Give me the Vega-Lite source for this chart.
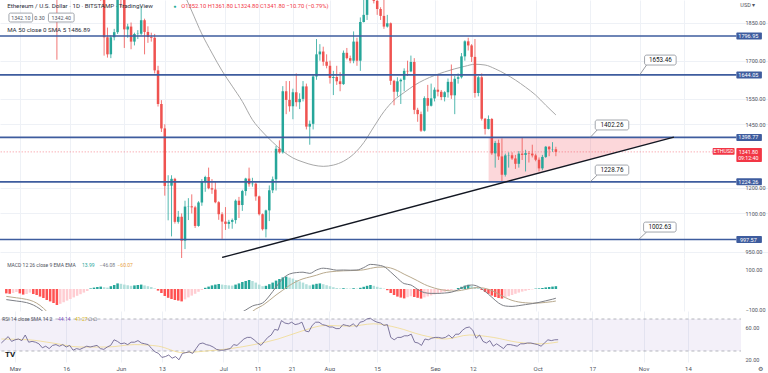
{
"$schema":"https://vega.github.io/schema/vega-lite/v6.json",
"padding":0,
"background":"#ffffff",
"spacing":0,
"bounds":"flush",
"config":{"view":{"stroke":null},"font":"Roboto","axis":{"titleFontSize":1}},
"datasets":{
"candles":[
{"d":"2022-05-12","o":2072,"h":2112,"l":1704,"c":1962},
{"d":"2022-05-25","o":1978,"h":2010,"l":1935,"c":1945},
{"d":"2022-05-26","o":1945,"h":1985,"l":1720,"c":1792},
{"d":"2022-05-27","o":1792,"h":1830,"l":1712,"c":1725},
{"d":"2022-05-28","o":1725,"h":1800,"l":1710,"c":1792},
{"d":"2022-05-29","o":1792,"h":1825,"l":1780,"c":1812},
{"d":"2022-05-30","o":1812,"h":2015,"l":1805,"c":1997},
{"d":"2022-05-31","o":1997,"h":2000,"l":1910,"c":1942},
{"d":"2022-06-01","o":1942,"h":1972,"l":1750,"c":1823},
{"d":"2022-06-02","o":1823,"h":1845,"l":1790,"c":1834},
{"d":"2022-06-03","o":1834,"h":1850,"l":1745,"c":1775},
{"d":"2022-06-04","o":1775,"h":1810,"l":1760,"c":1805},
{"d":"2022-06-05","o":1805,"h":1820,"l":1785,"c":1806},
{"d":"2022-06-06","o":1806,"h":1915,"l":1800,"c":1859},
{"d":"2022-06-07","o":1859,"h":1865,"l":1725,"c":1813},
{"d":"2022-06-08","o":1813,"h":1835,"l":1770,"c":1793},
{"d":"2022-06-09","o":1793,"h":1810,"l":1775,"c":1790},
{"d":"2022-06-10","o":1790,"h":1805,"l":1650,"c":1662},
{"d":"2022-06-11","o":1662,"h":1680,"l":1520,"c":1530},
{"d":"2022-06-12","o":1530,"h":1545,"l":1420,"c":1434},
{"d":"2022-06-13","o":1434,"h":1450,"l":1170,"c":1208},
{"d":"2022-06-14","o":1208,"h":1250,"l":1073,"c":1209},
{"d":"2022-06-15","o":1209,"h":1250,"l":1010,"c":1236},
{"d":"2022-06-16","o":1236,"h":1240,"l":1060,"c":1067},
{"d":"2022-06-17","o":1067,"h":1110,"l":1060,"c":1087},
{"d":"2022-06-18","o":1087,"h":1100,"l":880,"c":993},
{"d":"2022-06-19","o":993,"h":1150,"l":960,"c":1127},
{"d":"2022-06-20","o":1127,"h":1160,"l":1074,"c":1128},
{"d":"2022-06-21","o":1128,"h":1175,"l":1100,"c":1124},
{"d":"2022-06-22","o":1124,"h":1130,"l":1043,"c":1051},
{"d":"2022-06-23","o":1051,"h":1148,"l":1048,"c":1143},
{"d":"2022-06-24","o":1143,"h":1235,"l":1130,"c":1225},
{"d":"2022-06-25","o":1225,"h":1248,"l":1185,"c":1243},
{"d":"2022-06-26","o":1243,"h":1280,"l":1195,"c":1199},
{"d":"2022-06-27","o":1199,"h":1235,"l":1177,"c":1194},
{"d":"2022-06-28","o":1194,"h":1225,"l":1140,"c":1144},
{"d":"2022-06-29","o":1144,"h":1148,"l":1075,"c":1097},
{"d":"2022-06-30","o":1097,"h":1105,"l":1000,"c":1068},
{"d":"2022-07-01","o":1068,"h":1125,"l":1035,"c":1059},
{"d":"2022-07-02","o":1059,"h":1075,"l":1040,"c":1067},
{"d":"2022-07-03","o":1067,"h":1080,"l":1040,"c":1074},
{"d":"2022-07-04","o":1074,"h":1155,"l":1060,"c":1150},
{"d":"2022-07-05","o":1150,"h":1165,"l":1082,"c":1133},
{"d":"2022-07-06","o":1133,"h":1193,"l":1110,"c":1188},
{"d":"2022-07-07","o":1188,"h":1240,"l":1170,"c":1237},
{"d":"2022-07-08","o":1237,"h":1280,"l":1205,"c":1215},
{"d":"2022-07-09","o":1215,"h":1240,"l":1205,"c":1217},
{"d":"2022-07-10","o":1217,"h":1222,"l":1150,"c":1167},
{"d":"2022-07-11","o":1167,"h":1170,"l":1092,"c":1097},
{"d":"2022-07-12","o":1097,"h":1100,"l":1033,"c":1038},
{"d":"2022-07-13","o":1038,"h":1115,"l":1006,"c":1112},
{"d":"2022-07-14","o":1112,"h":1210,"l":1070,"c":1191},
{"d":"2022-07-15","o":1191,"h":1245,"l":1180,"c":1234},
{"d":"2022-07-16","o":1234,"h":1365,"l":1190,"c":1354},
{"d":"2022-07-17","o":1354,"h":1387,"l":1335,"c":1340},
{"d":"2022-07-18","o":1340,"h":1600,"l":1335,"c":1580},
{"d":"2022-07-19","o":1580,"h":1620,"l":1490,"c":1546},
{"d":"2022-07-20","o":1546,"h":1620,"l":1500,"c":1521},
{"d":"2022-07-21","o":1521,"h":1590,"l":1470,"c":1576},
{"d":"2022-07-22","o":1576,"h":1650,"l":1520,"c":1537},
{"d":"2022-07-23","o":1537,"h":1572,"l":1510,"c":1550},
{"d":"2022-07-24","o":1550,"h":1620,"l":1540,"c":1599},
{"d":"2022-07-25","o":1599,"h":1610,"l":1430,"c":1441},
{"d":"2022-07-26","o":1441,"h":1465,"l":1370,"c":1452},
{"d":"2022-07-27","o":1452,"h":1645,"l":1430,"c":1638},
{"d":"2022-07-28","o":1638,"h":1785,"l":1625,"c":1725},
{"d":"2022-07-29","o":1725,"h":1765,"l":1700,"c":1736},
{"d":"2022-07-30","o":1736,"h":1755,"l":1680,"c":1696},
{"d":"2022-07-31","o":1696,"h":1725,"l":1670,"c":1680},
{"d":"2022-08-01","o":1680,"h":1700,"l":1610,"c":1632},
{"d":"2022-08-02","o":1632,"h":1660,"l":1565,"c":1636},
{"d":"2022-08-03","o":1636,"h":1680,"l":1605,"c":1619},
{"d":"2022-08-04","o":1619,"h":1655,"l":1580,"c":1608},
{"d":"2022-08-05","o":1608,"h":1740,"l":1605,"c":1731},
{"d":"2022-08-06","o":1731,"h":1750,"l":1705,"c":1710},
{"d":"2022-08-07","o":1710,"h":1720,"l":1690,"c":1700},
{"d":"2022-08-08","o":1700,"h":1815,"l":1690,"c":1775},
{"d":"2022-08-09","o":1775,"h":1790,"l":1680,"c":1700},
{"d":"2022-08-10","o":1700,"h":1870,"l":1660,"c":1852},
{"d":"2022-08-11","o":1852,"h":1940,"l":1850,"c":1880},
{"d":"2022-08-12","o":1880,"h":1960,"l":1860,"c":1958},
{"d":"2022-08-13","o":1958,"h":2020,"l":1950,"c":1983},
{"d":"2022-08-14","o":1983,"h":2030,"l":1925,"c":1935},
{"d":"2022-08-15","o":1935,"h":2010,"l":1880,"c":1903},
{"d":"2022-08-16","o":1903,"h":1910,"l":1860,"c":1876},
{"d":"2022-08-17","o":1876,"h":1950,"l":1825,"c":1834},
{"d":"2022-08-18","o":1834,"h":1880,"l":1830,"c":1847},
{"d":"2022-08-19","o":1847,"h":1850,"l":1605,"c":1621},
{"d":"2022-08-20","o":1621,"h":1625,"l":1525,"c":1578},
{"d":"2022-08-21","o":1578,"h":1635,"l":1560,"c":1619},
{"d":"2022-08-22","o":1619,"h":1630,"l":1530,"c":1625},
{"d":"2022-08-23","o":1625,"h":1670,"l":1580,"c":1660},
{"d":"2022-08-24","o":1660,"h":1700,"l":1640,"c":1658},
{"d":"2022-08-25","o":1658,"h":1720,"l":1655,"c":1695},
{"d":"2022-08-26","o":1695,"h":1710,"l":1490,"c":1507},
{"d":"2022-08-27","o":1507,"h":1515,"l":1460,"c":1490},
{"d":"2022-08-28","o":1490,"h":1500,"l":1420,"c":1425},
{"d":"2022-08-29","o":1425,"h":1560,"l":1422,"c":1553},
{"d":"2022-08-30","o":1553,"h":1605,"l":1500,"c":1523},
{"d":"2022-08-31","o":1523,"h":1610,"l":1520,"c":1552},
{"d":"2022-09-01","o":1552,"h":1595,"l":1540,"c":1586},
{"d":"2022-09-02","o":1586,"h":1645,"l":1560,"c":1578},
{"d":"2022-09-03","o":1578,"h":1585,"l":1545,"c":1557},
{"d":"2022-09-04","o":1557,"h":1580,"l":1540,"c":1576},
{"d":"2022-09-05","o":1576,"h":1630,"l":1555,"c":1617},
{"d":"2022-09-06","o":1617,"h":1685,"l":1550,"c":1564},
{"d":"2022-09-07","o":1564,"h":1640,"l":1490,"c":1629},
{"d":"2022-09-08","o":1629,"h":1650,"l":1610,"c":1635},
{"d":"2022-09-09","o":1635,"h":1730,"l":1630,"c":1717},
{"d":"2022-09-10","o":1717,"h":1780,"l":1700,"c":1776},
{"d":"2022-09-11","o":1776,"h":1790,"l":1740,"c":1760},
{"d":"2022-09-12","o":1760,"h":1765,"l":1695,"c":1715},
{"d":"2022-09-13","o":1715,"h":1785,"l":1555,"c":1573},
{"d":"2022-09-14","o":1573,"h":1640,"l":1560,"c":1635},
{"d":"2022-09-15","o":1635,"h":1650,"l":1465,"c":1472},
{"d":"2022-09-16","o":1472,"h":1475,"l":1410,"c":1432},
{"d":"2022-09-17","o":1432,"h":1485,"l":1430,"c":1471},
{"d":"2022-09-18","o":1471,"h":1475,"l":1330,"c":1336},
{"d":"2022-09-19","o":1336,"h":1385,"l":1280,"c":1377},
{"d":"2022-09-20","o":1377,"h":1390,"l":1310,"c":1324},
{"d":"2022-09-21","o":1324,"h":1395,"l":1222,"c":1252},
{"d":"2022-09-22","o":1252,"h":1335,"l":1245,"c":1328},
{"d":"2022-09-23","o":1328,"h":1340,"l":1280,"c":1329},
{"d":"2022-09-24","o":1329,"h":1340,"l":1310,"c":1316},
{"d":"2022-09-25","o":1316,"h":1330,"l":1275,"c":1295},
{"d":"2022-09-26","o":1295,"h":1345,"l":1280,"c":1335},
{"d":"2022-09-27","o":1335,"h":1400,"l":1310,"c":1330},
{"d":"2022-09-28","o":1330,"h":1350,"l":1265,"c":1337},
{"d":"2022-09-29","o":1337,"h":1345,"l":1300,"c":1335},
{"d":"2022-09-30","o":1335,"h":1370,"l":1320,"c":1328},
{"d":"2022-10-01","o":1328,"h":1335,"l":1305,"c":1311},
{"d":"2022-10-02","o":1311,"h":1320,"l":1265,"c":1277},
{"d":"2022-10-03","o":1277,"h":1330,"l":1270,"c":1322},
{"d":"2022-10-04","o":1322,"h":1365,"l":1318,"c":1362},
{"d":"2022-10-05","o":1362,"h":1365,"l":1325,"c":1352},
{"d":"2022-10-06","o":1352,"h":1380,"l":1342,"c":1353},
{"d":"2022-10-07","o":1352.1,"h":1361.8,"l":1324.8,"c":1341.8}
],
"ma":[
{"d":"2022-06-18","v":1985},{"d":"2022-06-21","v":1895},{"d":"2022-06-24","v":1805},{"d":"2022-06-27","v":1730},{"d":"2022-06-30","v":1660},
{"d":"2022-07-03","v":1600},{"d":"2022-07-06","v":1540},{"d":"2022-07-09","v":1468},{"d":"2022-07-12","v":1420},{"d":"2022-07-15","v":1380},
{"d":"2022-07-18","v":1345},{"d":"2022-07-21","v":1318},{"d":"2022-07-24","v":1302},{"d":"2022-07-27","v":1290},{"d":"2022-07-30","v":1285},
{"d":"2022-08-02","v":1290},{"d":"2022-08-05","v":1305},{"d":"2022-08-08","v":1333},{"d":"2022-08-11","v":1378},{"d":"2022-08-14","v":1440},
{"d":"2022-08-17","v":1500},{"d":"2022-08-20","v":1545},{"d":"2022-08-23","v":1575},{"d":"2022-08-26","v":1603},{"d":"2022-08-29","v":1625},
{"d":"2022-09-01","v":1642},{"d":"2022-09-04","v":1656},{"d":"2022-09-07","v":1668},{"d":"2022-09-10","v":1678},{"d":"2022-09-13","v":1686},
{"d":"2022-09-16","v":1683},{"d":"2022-09-19","v":1668},{"d":"2022-09-22","v":1648},{"d":"2022-09-25","v":1624},{"d":"2022-09-28","v":1596},
{"d":"2022-10-01","v":1565},{"d":"2022-10-04","v":1525},{"d":"2022-10-07","v":1486.89}
],
"callouts":[
{"t":"1653.46","bd":"2022-11-02T07:12:00Z","bd2":"2022-11-11T16:00:00Z","blo":1683,"bhi":1722,"td":"2022-11-07T00:00:00Z","tv":1702.5,"pd":"2022-11-02T21:20:00Z","pv":1683,"pd2":"2022-10-31T20:10:00Z","pv2":1644.05},
{"t":"1402.26","bd":"2022-10-18T16:00:00Z","bd2":"2022-10-28T14:53:00Z","blo":1428,"bhi":1467,"td":"2022-10-23T15:22:00Z","tv":1447.5,"pd":"2022-10-19T06:00:00Z","pv":1428,"pd2":"2022-10-17T04:48:00Z","pv2":1398.77},
{"t":"1228.76","bd":"2022-10-18T16:00:00Z","bd2":"2022-10-28T14:53:00Z","blo":1251,"bhi":1290,"td":"2022-10-23T15:22:00Z","tv":1270.5,"pd":"2022-10-19T06:00:00Z","pv":1251,"pd2":"2022-10-17T04:48:00Z","pv2":1224.26},
{"t":"1002.63","bd":"2022-11-02T00:15:00Z","bd2":"2022-11-11T16:00:00Z","blo":1027,"bhi":1066,"td":"2022-11-06T20:10:00Z","tv":1046.5,"pd":"2022-11-02T21:20:00Z","pv":1027,"pd2":"2022-10-31T13:12:00Z","pv2":997.57}
],
"hist":[
{"d":"2022-04-27","v":-22,"k":"nd"},{"d":"2022-04-28","v":-24,"k":"nd"},{"d":"2022-04-29","v":-20,"k":"nu"},{"d":"2022-04-30","v":-15,"k":"nu"},
{"d":"2022-05-01","v":-22,"k":"nd"},{"d":"2022-05-02","v":-28,"k":"nd"},{"d":"2022-05-03","v":-25,"k":"nu"},{"d":"2022-05-04","v":-18,"k":"nu"},
{"d":"2022-05-05","v":-25,"k":"nd"},{"d":"2022-05-06","v":-30,"k":"nd"},{"d":"2022-05-07","v":-38,"k":"nd"},{"d":"2022-05-08","v":-45,"k":"nd"},
{"d":"2022-05-09","v":-55,"k":"nd"},{"d":"2022-05-10","v":-62,"k":"nd"},{"d":"2022-05-11","v":-70,"k":"nd"},{"d":"2022-05-12","v":-80,"k":"nd"},
{"d":"2022-05-13","v":-74,"k":"nu"},{"d":"2022-05-14","v":-66,"k":"nu"},{"d":"2022-05-15","v":-58,"k":"nu"},{"d":"2022-05-16","v":-50,"k":"nu"},
{"d":"2022-05-17","v":-42,"k":"nu"},{"d":"2022-05-18","v":-34,"k":"nu"},{"d":"2022-05-19","v":-26,"k":"nu"},{"d":"2022-05-20","v":-18,"k":"nu"},
{"d":"2022-05-21","v":-10,"k":"nu"},{"d":"2022-05-22","v":3,"k":"pu"},{"d":"2022-05-23","v":7,"k":"pu"},{"d":"2022-05-24","v":10,"k":"pu"},
{"d":"2022-05-25","v":12,"k":"pu"},{"d":"2022-05-26","v":9,"k":"pd"},{"d":"2022-05-27","v":7,"k":"pd"},{"d":"2022-05-28","v":14,"k":"pu"},
{"d":"2022-05-29","v":20,"k":"pu"},{"d":"2022-05-30","v":28,"k":"pu"},{"d":"2022-05-31","v":26,"k":"pd"},{"d":"2022-06-01","v":22,"k":"pd"},
{"d":"2022-06-02","v":19,"k":"pd"},{"d":"2022-06-03","v":16,"k":"pd"},{"d":"2022-06-04","v":18,"k":"pu"},{"d":"2022-06-05","v":20,"k":"pu"},
{"d":"2022-06-06","v":22,"k":"pu"},{"d":"2022-06-07","v":18,"k":"pd"},{"d":"2022-06-08","v":14,"k":"pd"},{"d":"2022-06-09","v":10,"k":"pd"},
{"d":"2022-06-10","v":3,"k":"pd"},{"d":"2022-06-11","v":-8,"k":"nd"},{"d":"2022-06-12","v":-20,"k":"nd"},{"d":"2022-06-13","v":-35,"k":"nd"},
{"d":"2022-06-14","v":-44,"k":"nd"},{"d":"2022-06-15","v":-50,"k":"nd"},{"d":"2022-06-16","v":-55,"k":"nd"},{"d":"2022-06-17","v":-58,"k":"nd"},
{"d":"2022-06-18","v":-62,"k":"nd"},{"d":"2022-06-19","v":-52,"k":"nu"},{"d":"2022-06-20","v":-42,"k":"nu"},{"d":"2022-06-21","v":-33,"k":"nu"},
{"d":"2022-06-22","v":-24,"k":"nu"},{"d":"2022-06-23","v":-14,"k":"nu"},{"d":"2022-06-24","v":-5,"k":"nu"},{"d":"2022-06-25","v":6,"k":"pu"},
{"d":"2022-06-26","v":12,"k":"pu"},{"d":"2022-06-27","v":18,"k":"pu"},{"d":"2022-06-28","v":22,"k":"pu"},{"d":"2022-06-29","v":25,"k":"pu"},
{"d":"2022-06-30","v":22,"k":"pd"},{"d":"2022-07-01","v":20,"k":"pd"},{"d":"2022-07-02","v":18,"k":"pd"},{"d":"2022-07-03","v":17,"k":"pd"},
{"d":"2022-07-04","v":22,"k":"pu"},{"d":"2022-07-05","v":28,"k":"pu"},{"d":"2022-07-06","v":35,"k":"pu"},{"d":"2022-07-07","v":40,"k":"pu"},
{"d":"2022-07-08","v":45,"k":"pu"},{"d":"2022-07-09","v":40,"k":"pd"},{"d":"2022-07-10","v":32,"k":"pd"},{"d":"2022-07-11","v":22,"k":"pd"},
{"d":"2022-07-12","v":14,"k":"pd"},{"d":"2022-07-13","v":16,"k":"pu"},{"d":"2022-07-14","v":24,"k":"pu"},{"d":"2022-07-15","v":32,"k":"pu"},
{"d":"2022-07-16","v":42,"k":"pu"},{"d":"2022-07-17","v":50,"k":"pu"},{"d":"2022-07-18","v":58,"k":"pu"},{"d":"2022-07-19","v":62,"k":"pu"},
{"d":"2022-07-20","v":57,"k":"pd"},{"d":"2022-07-21","v":52,"k":"pd"},{"d":"2022-07-22","v":45,"k":"pd"},{"d":"2022-07-23","v":38,"k":"pd"},
{"d":"2022-07-24","v":32,"k":"pd"},{"d":"2022-07-25","v":24,"k":"pd"},{"d":"2022-07-26","v":18,"k":"pd"},{"d":"2022-07-27","v":22,"k":"pu"},
{"d":"2022-07-28","v":26,"k":"pu"},{"d":"2022-07-29","v":28,"k":"pu"},{"d":"2022-07-30","v":24,"k":"pd"},{"d":"2022-07-31","v":19,"k":"pd"},
{"d":"2022-08-01","v":14,"k":"pd"},{"d":"2022-08-02","v":9,"k":"pd"},{"d":"2022-08-03","v":5,"k":"pd"},{"d":"2022-08-04","v":3,"k":"pd"},
{"d":"2022-08-05","v":4,"k":"pu"},{"d":"2022-08-06","v":3,"k":"pd"},{"d":"2022-08-07","v":2,"k":"pd"},{"d":"2022-08-08","v":4,"k":"pu"},
{"d":"2022-08-09","v":2,"k":"pd"},{"d":"2022-08-10","v":6,"k":"pu"},{"d":"2022-08-11","v":11,"k":"pu"},{"d":"2022-08-12","v":16,"k":"pu"},
{"d":"2022-08-13","v":20,"k":"pu"},{"d":"2022-08-14","v":16,"k":"pd"},{"d":"2022-08-15","v":11,"k":"pd"},{"d":"2022-08-16","v":6,"k":"pd"},
{"d":"2022-08-17","v":2,"k":"pd"},{"d":"2022-08-18","v":-6,"k":"nd"},{"d":"2022-08-19","v":-20,"k":"nd"},{"d":"2022-08-20","v":-30,"k":"nd"},
{"d":"2022-08-21","v":-38,"k":"nd"},{"d":"2022-08-22","v":-43,"k":"nd"},{"d":"2022-08-23","v":-47,"k":"nd"},{"d":"2022-08-24","v":-41,"k":"nu"},
{"d":"2022-08-25","v":-36,"k":"nu"},{"d":"2022-08-26","v":-40,"k":"nd"},{"d":"2022-08-27","v":-44,"k":"nd"},{"d":"2022-08-28","v":-48,"k":"nd"},
{"d":"2022-08-29","v":-42,"k":"nu"},{"d":"2022-08-30","v":-37,"k":"nu"},{"d":"2022-08-31","v":-32,"k":"nu"},{"d":"2022-09-01","v":-27,"k":"nu"},
{"d":"2022-09-02","v":-22,"k":"nu"},{"d":"2022-09-03","v":-18,"k":"nu"},{"d":"2022-09-04","v":-14,"k":"nu"},{"d":"2022-09-05","v":-10,"k":"nu"},
{"d":"2022-09-06","v":-6,"k":"nu"},{"d":"2022-09-07","v":-2,"k":"nu"},{"d":"2022-09-08","v":5,"k":"pu"},{"d":"2022-09-09","v":11,"k":"pu"},
{"d":"2022-09-10","v":17,"k":"pu"},{"d":"2022-09-11","v":21,"k":"pu"},{"d":"2022-09-12","v":16,"k":"pd"},{"d":"2022-09-13","v":10,"k":"pd"},
{"d":"2022-09-14","v":5,"k":"pd"},{"d":"2022-09-15","v":-5,"k":"nd"},{"d":"2022-09-16","v":-15,"k":"nd"},{"d":"2022-09-17","v":-24,"k":"nd"},
{"d":"2022-09-18","v":-33,"k":"nd"},{"d":"2022-09-19","v":-40,"k":"nd"},{"d":"2022-09-20","v":-45,"k":"nd"},{"d":"2022-09-21","v":-48,"k":"nd"},
{"d":"2022-09-22","v":-42,"k":"nu"},{"d":"2022-09-23","v":-36,"k":"nu"},{"d":"2022-09-24","v":-30,"k":"nu"},{"d":"2022-09-25","v":-24,"k":"nu"},
{"d":"2022-09-26","v":-18,"k":"nu"},{"d":"2022-09-27","v":-13,"k":"nu"},{"d":"2022-09-28","v":-9,"k":"nu"},{"d":"2022-09-29","v":-5,"k":"nu"},
{"d":"2022-09-30","v":-2,"k":"nu"},{"d":"2022-10-01","v":2,"k":"pu"},{"d":"2022-10-02","v":3,"k":"pu"},{"d":"2022-10-03","v":5,"k":"pu"},
{"d":"2022-10-04","v":8,"k":"pu"},{"d":"2022-10-05","v":10,"k":"pu"},{"d":"2022-10-06","v":12,"k":"pu"},{"d":"2022-10-07","v":13.99,"k":"pu"}
],
"macd":[
{"d":"2022-04-27","v":-53},{"d":"2022-04-30","v":-60},{"d":"2022-05-03","v":-68},{"d":"2022-05-05","v":-80},{"d":"2022-05-07","v":-100},
{"d":"2022-05-09","v":-130},{"d":"2022-05-11","v":-170},{"d":"2022-05-20","v":-190},{"d":"2022-06-01","v":-150},{"d":"2022-06-10","v":-150},
{"d":"2022-06-15","v":-210},{"d":"2022-06-20","v":-230},{"d":"2022-06-25","v":-200},{"d":"2022-07-01","v":-160},{"d":"2022-07-05","v":-125},
{"d":"2022-07-07","v":-105},{"d":"2022-07-09","v":-85},{"d":"2022-07-12","v":-70},{"d":"2022-07-14","v":-35},{"d":"2022-07-16","v":10},
{"d":"2022-07-18","v":52},{"d":"2022-07-20","v":75},{"d":"2022-07-22","v":82},{"d":"2022-07-24","v":84},{"d":"2022-07-26","v":78},
{"d":"2022-07-28","v":95},{"d":"2022-07-30","v":104},{"d":"2022-08-01","v":100},{"d":"2022-08-03","v":94},{"d":"2022-08-05","v":95},
{"d":"2022-08-07","v":94},{"d":"2022-08-09","v":95},{"d":"2022-08-11","v":107},{"d":"2022-08-13","v":123},{"d":"2022-08-15","v":120},
{"d":"2022-08-17","v":112},{"d":"2022-08-19","v":85},{"d":"2022-08-21","v":54},{"d":"2022-08-23","v":27},{"d":"2022-08-25","v":20},
{"d":"2022-08-27","v":-2},{"d":"2022-08-29","v":-18},{"d":"2022-08-31","v":-22},{"d":"2022-09-02","v":-22},{"d":"2022-09-04","v":-20},
{"d":"2022-09-06","v":-16},{"d":"2022-09-08","v":-4},{"d":"2022-09-10","v":13},{"d":"2022-09-12","v":20},{"d":"2022-09-14","v":12},
{"d":"2022-09-16","v":-12},{"d":"2022-09-18","v":-41},{"d":"2022-09-20","v":-70},{"d":"2022-09-22","v":-85},{"d":"2022-09-24","v":-87},
{"d":"2022-09-26","v":-83},{"d":"2022-09-28","v":-78},{"d":"2022-09-30","v":-73},{"d":"2022-10-02","v":-67},{"d":"2022-10-04","v":-59},
{"d":"2022-10-06","v":-51},{"d":"2022-10-07","v":-46.08}
],
"sig":[
{"d":"2022-04-27","v":-37},{"d":"2022-04-30","v":-44},{"d":"2022-05-03","v":-52},{"d":"2022-05-05","v":-62},{"d":"2022-05-07","v":-82},
{"d":"2022-05-09","v":-112},{"d":"2022-05-11","v":-145},{"d":"2022-05-20","v":-170},{"d":"2022-06-01","v":-170},{"d":"2022-06-10","v":-160},
{"d":"2022-06-15","v":-165},{"d":"2022-06-20","v":-190},{"d":"2022-06-25","v":-205},{"d":"2022-07-01","v":-180},{"d":"2022-07-05","v":-155},
{"d":"2022-07-08","v":-125},{"d":"2022-07-10","v":-100},{"d":"2022-07-12","v":-82},{"d":"2022-07-14","v":-57},{"d":"2022-07-16","v":-30},
{"d":"2022-07-18","v":-6},{"d":"2022-07-20","v":18},{"d":"2022-07-22","v":37},{"d":"2022-07-24","v":51},{"d":"2022-07-26","v":60},
{"d":"2022-07-28","v":69},{"d":"2022-07-30","v":80},{"d":"2022-08-01","v":86},{"d":"2022-08-03","v":89},{"d":"2022-08-05","v":91},
{"d":"2022-08-07","v":92},{"d":"2022-08-09","v":93},{"d":"2022-08-11","v":96},{"d":"2022-08-13","v":103},{"d":"2022-08-15","v":109},
{"d":"2022-08-17","v":110},{"d":"2022-08-19","v":105},{"d":"2022-08-21","v":92},{"d":"2022-08-23","v":74},{"d":"2022-08-25","v":58},
{"d":"2022-08-27","v":41},{"d":"2022-08-29","v":23},{"d":"2022-08-31","v":10},{"d":"2022-09-02","v":0},{"d":"2022-09-04","v":-6},
{"d":"2022-09-06","v":-10},{"d":"2022-09-08","v":-9},{"d":"2022-09-10","v":-3},{"d":"2022-09-12","v":4},{"d":"2022-09-14","v":7},
{"d":"2022-09-16","v":3},{"d":"2022-09-18","v":-8},{"d":"2022-09-20","v":-25},{"d":"2022-09-22","v":-43},{"d":"2022-09-24","v":-57},
{"d":"2022-09-26","v":-65},{"d":"2022-09-28","v":-69},{"d":"2022-09-30","v":-71},{"d":"2022-10-02","v":-70},{"d":"2022-10-04","v":-67},
{"d":"2022-10-06","v":-63},{"d":"2022-10-07","v":-60.07}
],
"rsi":[
{"d":"2022-04-27","v":40},{"d":"2022-04-28","v":44},{"d":"2022-04-29","v":48},{"d":"2022-04-30","v":42},
{"d":"2022-05-01","v":44},{"d":"2022-05-02","v":45},{"d":"2022-05-03","v":43},{"d":"2022-05-04","v":50},{"d":"2022-05-05","v":41},{"d":"2022-05-06","v":42},{"d":"2022-05-07","v":41},{"d":"2022-05-08","v":39},{"d":"2022-05-09","v":34},{"d":"2022-05-10","v":36},
{"d":"2022-05-11","v":33},{"d":"2022-05-12","v":37},{"d":"2022-05-13","v":38},{"d":"2022-05-14","v":36},{"d":"2022-05-15","v":38},{"d":"2022-05-16","v":35},{"d":"2022-05-17","v":37},{"d":"2022-05-18","v":31},{"d":"2022-05-19","v":33},{"d":"2022-05-20","v":32},
{"d":"2022-05-21","v":34},{"d":"2022-05-22","v":36},{"d":"2022-05-23","v":35},{"d":"2022-05-24","v":36},{"d":"2022-05-25","v":37},{"d":"2022-05-26","v":33},{"d":"2022-05-27","v":32},{"d":"2022-05-28","v":35},{"d":"2022-05-29","v":37},{"d":"2022-05-30","v":44},{"d":"2022-05-31","v":42},
{"d":"2022-06-01","v":39},{"d":"2022-06-02","v":40},{"d":"2022-06-03","v":38},{"d":"2022-06-04","v":41},{"d":"2022-06-05","v":41},{"d":"2022-06-06","v":43},{"d":"2022-06-07","v":40},{"d":"2022-06-08","v":39},{"d":"2022-06-09","v":38},{"d":"2022-06-10","v":33},
{"d":"2022-06-11","v":29},{"d":"2022-06-12","v":27},{"d":"2022-06-13","v":22},{"d":"2022-06-14","v":23},{"d":"2022-06-15","v":25},{"d":"2022-06-16","v":21},{"d":"2022-06-17","v":23},{"d":"2022-06-18","v":19},{"d":"2022-06-19","v":27},{"d":"2022-06-20","v":28},
{"d":"2022-06-21","v":29},{"d":"2022-06-22","v":27},{"d":"2022-06-23","v":33},{"d":"2022-06-24","v":39},{"d":"2022-06-25","v":40},{"d":"2022-06-26","v":38},{"d":"2022-06-27","v":37},{"d":"2022-06-28","v":35},{"d":"2022-06-29","v":32},{"d":"2022-06-30","v":31},
{"d":"2022-07-01","v":31},{"d":"2022-07-02","v":32},{"d":"2022-07-03","v":33},{"d":"2022-07-04","v":38},{"d":"2022-07-05","v":37},{"d":"2022-07-06","v":41},{"d":"2022-07-07","v":45},{"d":"2022-07-08","v":47},{"d":"2022-07-09","v":47},{"d":"2022-07-10","v":44},
{"d":"2022-07-11","v":40},{"d":"2022-07-12","v":37},{"d":"2022-07-13","v":42},{"d":"2022-07-14","v":47},{"d":"2022-07-15","v":50},{"d":"2022-07-16","v":57},{"d":"2022-07-17","v":56},{"d":"2022-07-18","v":68},{"d":"2022-07-19","v":65},{"d":"2022-07-20","v":64},
{"d":"2022-07-21","v":66},{"d":"2022-07-22","v":63},{"d":"2022-07-23","v":64},{"d":"2022-07-24","v":66},{"d":"2022-07-25","v":55},{"d":"2022-07-26","v":54},{"d":"2022-07-27","v":62},{"d":"2022-07-28","v":66},{"d":"2022-07-29","v":66},{"d":"2022-07-30","v":63},{"d":"2022-07-31","v":62},
{"d":"2022-08-01","v":60},{"d":"2022-08-02","v":60},{"d":"2022-08-03","v":58},{"d":"2022-08-04","v":58},{"d":"2022-08-05","v":63},{"d":"2022-08-06","v":62},{"d":"2022-08-07","v":61},{"d":"2022-08-08","v":64},{"d":"2022-08-09","v":60},{"d":"2022-08-10","v":66},
{"d":"2022-08-11","v":67},{"d":"2022-08-12","v":70},{"d":"2022-08-13","v":71},{"d":"2022-08-14","v":68},{"d":"2022-08-15","v":66},{"d":"2022-08-16","v":65},{"d":"2022-08-17","v":62},{"d":"2022-08-18","v":63},{"d":"2022-08-19","v":47},{"d":"2022-08-20","v":44},
{"d":"2022-08-21","v":47},{"d":"2022-08-22","v":47},{"d":"2022-08-23","v":49},{"d":"2022-08-24","v":49},{"d":"2022-08-25","v":51},{"d":"2022-08-26","v":41},{"d":"2022-08-27","v":40},{"d":"2022-08-28","v":37},{"d":"2022-08-29","v":45},{"d":"2022-08-30","v":44},{"d":"2022-08-31","v":46},
{"d":"2022-09-01","v":47},{"d":"2022-09-02","v":47},{"d":"2022-09-03","v":46},{"d":"2022-09-04","v":47},{"d":"2022-09-05","v":50},{"d":"2022-09-06","v":46},{"d":"2022-09-07","v":51},{"d":"2022-09-08","v":51},{"d":"2022-09-09","v":56},{"d":"2022-09-10","v":59},
{"d":"2022-09-11","v":60},{"d":"2022-09-12","v":56},{"d":"2022-09-13","v":46},{"d":"2022-09-14","v":50},{"d":"2022-09-15","v":42},{"d":"2022-09-16","v":40},{"d":"2022-09-17","v":43},{"d":"2022-09-18","v":36},{"d":"2022-09-19","v":39},{"d":"2022-09-20","v":36},
{"d":"2022-09-21","v":33},{"d":"2022-09-22","v":38},{"d":"2022-09-23","v":38},{"d":"2022-09-24","v":37},{"d":"2022-09-25","v":36},{"d":"2022-09-26","v":39},{"d":"2022-09-27","v":39},{"d":"2022-09-28","v":40},{"d":"2022-09-29","v":40},{"d":"2022-09-30","v":39},
{"d":"2022-10-01","v":38},{"d":"2022-10-02","v":36},{"d":"2022-10-03","v":40},{"d":"2022-10-04","v":44},{"d":"2022-10-05","v":43},{"d":"2022-10-06","v":44},{"d":"2022-10-07","v":44.14}
],
"rsima":[
{"d":"2022-04-27","v":45},{"d":"2022-05-05","v":44},{"d":"2022-05-12","v":40},{"d":"2022-05-20","v":35},{"d":"2022-05-28","v":35},{"d":"2022-06-05","v":38},
{"d":"2022-06-12","v":36},{"d":"2022-06-19","v":28},{"d":"2022-06-26","v":30},{"d":"2022-07-03","v":33},{"d":"2022-07-10","v":38},{"d":"2022-07-17","v":45},
{"d":"2022-07-24","v":55},{"d":"2022-07-31","v":62},{"d":"2022-08-07","v":61},{"d":"2022-08-14","v":64},{"d":"2022-08-21","v":59},{"d":"2022-08-28","v":50},
{"d":"2022-09-04","v":45},{"d":"2022-09-11","v":50},{"d":"2022-09-18","v":47},{"d":"2022-09-25","v":41},{"d":"2022-10-02","v":39},{"d":"2022-10-07","v":41.27}
]
},
"vconcat":[
{
"width":768,"height":258,
"layer":[
{"data":{"values":[{"d":"2022-09-17T01:00:00Z","lo":1224.26,"hi":1400},{"d":"2022-09-22T04:00:00Z","lo":1224.26,"hi":1400},{"d":"2022-11-11T00:00:00Z","lo":1400,"hi":1400}]},
 "mark":{"type":"area","color":"#f23645","opacity":0.2,"clip":true},
 "encoding":{
  "x":{"field":"d","type":"temporal","scale":{"type":"utc","domain":[1650983820000,1670408340000]},
   "axis":{"values":[1651363200000,1652659200000,1654041600000,1655078400000,1656633600000,1657497600000,1658361600000,1659312000000,1660521600000,1661990400000,1662940800000,1664582400000,1665964800000,1667260800000,1668384000000],"labels":false,"ticks":false,"domain":false,"grid":true,"gridColor":"#eef1f6","title":null}},
  "y":{"field":"lo","type":"quantitative","scale":{"domain":[925,1938.4],"nice":false,"zero":false},
   "axis":{"orient":"right","offset":-28,"values":[1850,1750,1700,1600,1550,1500,1450,1250,1200,1150,1100,1050,950],"format":".2f","labelFontSize":5.5,"labelColor":"#50535e","labelPadding":5,"labelAlign":"left","domain":false,"ticks":false,"tickSize":0,"grid":true,"gridColor":"#eef1f6","title":null}},
  "y2":{"field":"hi"}}},
{"data":{"values":[{"d":"2022-04-20","d2":"2022-11-22T12:00:00Z","v":1341.8}]},
 "mark":{"type":"rule","color":"#f23645","strokeDash":[1,2],"strokeWidth":0.8,"opacity":0.7,"clip":true},
 "encoding":{"x":{"field":"d","type":"temporal","scale":{"type":"utc","domain":[1650983820000,1670408340000]}},"x2":{"field":"d2"},
  "y":{"field":"v","type":"quantitative","scale":{"domain":[925,1938.4],"nice":false,"zero":false}}}},
{"data":{"name":"ma"},
 "mark":{"type":"line","color":"#a8a8a8","strokeWidth":1,"interpolate":"monotone","clip":true},
 "encoding":{"x":{"field":"d","type":"temporal","scale":{"type":"utc","domain":[1650983820000,1670408340000]}},
  "y":{"field":"v","type":"quantitative","scale":{"domain":[925,1938.4],"nice":false,"zero":false}}}},
{"data":{"name":"candles"},
 "mark":{"type":"rule","strokeWidth":0.8,"clip":true},
 "encoding":{"x":{"field":"d","type":"temporal","scale":{"type":"utc","domain":[1650983820000,1670408340000]}},
  "y":{"field":"l","type":"quantitative","scale":{"domain":[925,1938.4],"nice":false,"zero":false}},"y2":{"field":"h"},
  "color":{"condition":{"test":"datum.c >= datum.o","value":"#26a69a"},"value":"#ef5350"}}},
{"data":{"name":"candles"},
 "mark":{"type":"bar","size":2.5,"clip":true},
 "encoding":{"x":{"field":"d","type":"temporal","scale":{"type":"utc","domain":[1650983820000,1670408340000]}},
  "y":{"field":"o","type":"quantitative","scale":{"domain":[925,1938.4],"nice":false,"zero":false}},"y2":{"field":"c"},
  "color":{"condition":{"test":"datum.c >= datum.o","value":"#26a69a"},"value":"#ef5350"}}},
{"data":{"values":[{"d":"2022-04-20","d2":"2022-11-29T12:43:00Z","v":1796.95},{"d":"2022-04-20","d2":"2022-11-29T12:43:00Z","v":1644.05},{"d":"2022-04-20","d2":"2022-11-29T12:43:00Z","v":1398.77},{"d":"2022-04-20","d2":"2022-11-29T12:43:00Z","v":1224.26},{"d":"2022-04-20","d2":"2022-11-29T12:43:00Z","v":997.57}]},
 "mark":{"type":"rule","color":"#3e5c9e","strokeWidth":1.7,"clip":true},
 "encoding":{"x":{"field":"d","type":"temporal","scale":{"type":"utc","domain":[1650983820000,1670408340000]}},"x2":{"field":"d2"},
  "y":{"field":"v","type":"quantitative","scale":{"domain":[925,1938.4],"nice":false,"zero":false}}}},
{"data":{"values":[{"d":"2022-06-30","v":927},{"d":"2022-11-11","v":1400}]},
 "mark":{"type":"line","color":"#131722","strokeWidth":1.3,"clip":true},
 "encoding":{"x":{"field":"d","type":"temporal","scale":{"type":"utc","domain":[1650983820000,1670408340000]}},
  "y":{"field":"v","type":"quantitative","scale":{"domain":[925,1938.4],"nice":false,"zero":false}}}},
{"data":{"name":"callouts"},
 "mark":{"type":"rule","color":"#80848c","strokeWidth":0.8},
 "encoding":{"x":{"field":"pd","type":"temporal","scale":{"type":"utc","domain":[1650983820000,1670408340000]}},"x2":{"field":"pd2"},
  "y":{"field":"pv","type":"quantitative","scale":{"domain":[925,1938.4],"nice":false,"zero":false}},"y2":{"field":"pv2"}}},
{"data":{"name":"callouts"},
 "mark":{"type":"rect","fill":"#ffffff","stroke":"#8a8f98","strokeWidth":0.8,"cornerRadius":2},
 "encoding":{"x":{"field":"bd","type":"temporal","scale":{"type":"utc","domain":[1650983820000,1670408340000]}},"x2":{"field":"bd2"},
  "y":{"field":"blo","type":"quantitative","scale":{"domain":[925,1938.4],"nice":false,"zero":false}},"y2":{"field":"bhi"}}},
{"data":{"name":"callouts"},
 "mark":{"type":"text","fontSize":6.3,"color":"#131722","align":"center","baseline":"middle"},
 "encoding":{"x":{"field":"td","type":"temporal","scale":{"type":"utc","domain":[1650983820000,1670408340000]}},
  "y":{"field":"tv","type":"quantitative","scale":{"domain":[925,1938.4],"nice":false,"zero":false}},"text":{"field":"t"}}},
{"data":{"values":[{"t":"1796.95","v":1796.95},{"t":"1644.05","v":1644.05},{"t":"1398.77","v":1398.77},{"t":"1224.26","v":1224.26},{"t":"997.57","v":997.57}]},
 "mark":{"type":"rect","color":"#3e5c9e","height":7,"cornerRadius":1},
 "encoding":{"x":{"datum":1669725780000,"type":"temporal","scale":{"type":"utc","domain":[1650983820000,1670408340000]}},"x2":{"datum":1670380200000},
  "y":{"field":"v","type":"quantitative","scale":{"domain":[925,1938.4],"nice":false,"zero":false}}}},
{"data":{"values":[{"t":"1796.95","v":1796.95},{"t":"1644.05","v":1644.05},{"t":"1398.77","v":1398.77},{"t":"1224.26","v":1224.26},{"t":"997.57","v":997.57}]},
 "mark":{"type":"text","color":"#ffffff","fontSize":5.5,"align":"center","baseline":"middle"},
 "encoding":{"x":{"datum":1670032800000,"type":"temporal","scale":{"type":"utc","domain":[1650983820000,1670408340000]}},
  "y":{"field":"v","type":"quantitative","scale":{"domain":[925,1938.4],"nice":false,"zero":false}},"text":{"field":"t"}}},
{"data":{"values":[{"d":"2022-11-29T12:43:00Z","d2":"2022-12-07T02:30:00Z","lo":1302,"hi":1357},{"d":"2022-11-22T12:00:00Z","d2":"2022-11-29T00:00:00Z","lo":1331,"hi":1357}]},
 "mark":{"type":"rect","color":"#f23645","cornerRadius":1},
 "encoding":{"x":{"field":"d","type":"temporal","scale":{"type":"utc","domain":[1650983820000,1670408340000]}},"x2":{"field":"d2"},
  "y":{"field":"lo","type":"quantitative","scale":{"domain":[925,1938.4],"nice":false,"zero":false}},"y2":{"field":"hi"}}},
{"data":{"values":[{"t":"1341.80","d":"2022-12-03T02:00:00Z","v":1343},{"t":"09:12:40","d":"2022-12-03T02:00:00Z","v":1316},{"t":"ETHUSD","d":"2022-11-25T18:00:00Z","v":1344}]},
 "mark":{"type":"text","color":"#ffffff","fontSize":5.3,"align":"center","baseline":"middle"},
 "encoding":{"x":{"field":"d","type":"temporal","scale":{"type":"utc","domain":[1650983820000,1670408340000]}},
  "y":{"field":"v","type":"quantitative","scale":{"domain":[925,1938.4],"nice":false,"zero":false}},"text":{"field":"t"}}},
{"data":{"values":[{"t":"USD ▾","d":"2022-11-30T16:48:00Z","v":1917}]},
 "mark":{"type":"text","color":"#50535e","fontSize":5.5,"align":"left","baseline":"middle"},
 "encoding":{"x":{"field":"d","type":"temporal","scale":{"type":"utc","domain":[1650983820000,1670408340000]}},
  "y":{"field":"v","type":"quantitative","scale":{"domain":[925,1938.4],"nice":false,"zero":false}},"text":{"field":"t"}}},
{"data":{"values":[{"d":"2022-04-27T18:43:00Z","d2":"2022-05-04T19:16:00Z"},{"d":"2022-05-09T11:45:00Z","d2":"2022-05-17T02:30:00Z"}]},
 "mark":{"type":"rect","fill":"#ffffff","stroke":"#8a8f98","strokeWidth":0.8,"cornerRadius":1.5},
 "encoding":{"x":{"field":"d","type":"temporal","scale":{"type":"utc","domain":[1650983820000,1670408340000]}},"x2":{"field":"d2"},
  "y":{"datum":1852,"type":"quantitative","scale":{"domain":[925,1938.4],"nice":false,"zero":false}},"y2":{"datum":1887}}},
{"data":{"values":[{"t":"1342.10","d":"2022-05-01T07:00:00Z"},{"t":"0.30","d":"2022-05-06T20:00:00Z"},{"t":"1342.40","d":"2022-05-13T07:00:00Z"}]},
 "mark":{"type":"text","color":"#50535e","fontSize":5.3,"align":"center","baseline":"middle"},
 "encoding":{"x":{"field":"d","type":"temporal","scale":{"type":"utc","domain":[1650983820000,1670408340000]}},
  "y":{"datum":1869.5,"type":"quantitative","scale":{"domain":[925,1938.4],"nice":false,"zero":false}},"text":{"field":"t"}}},
{"data":{"values":[{"t":"Ethereum / U.S. Dollar · 1D · BITSTAMP · TradingView","d":"2022-04-27T06:00:00Z","v":1914},{"t":"MA 50 close 0 SMA 5  1486.89","d":"2022-04-27T06:00:00Z","v":1822.5}]},
 "mark":{"type":"text","color":"#2a2e39","fontSize":6.2,"align":"left","baseline":"middle"},
 "encoding":{"x":{"field":"d","type":"temporal","scale":{"type":"utc","domain":[1650983820000,1670408340000]}},
  "y":{"field":"v","type":"quantitative","scale":{"domain":[925,1938.4],"nice":false,"zero":false}},"text":{"field":"t"}}},
{"data":{"values":[{"t":"●","d":"2022-06-15T23:00:00Z","v":1914}]},
 "mark":{"type":"text","color":"#22ab94","fontSize":5,"align":"center","baseline":"middle"},
 "encoding":{"x":{"field":"d","type":"temporal","scale":{"type":"utc","domain":[1650983820000,1670408340000]}},
  "y":{"field":"v","type":"quantitative","scale":{"domain":[925,1938.4],"nice":false,"zero":false}},"text":{"field":"t"}}},
{"data":{"values":[{"t":"O1352.10 H1361.80 L1324.80 C1341.80 −10.70 (−0.79%)","d":"2022-06-17T21:30:00Z","v":1914}]},
 "mark":{"type":"text","color":"#f23645","fontSize":5.8,"align":"left","baseline":"middle"},
 "encoding":{"x":{"field":"d","type":"temporal","scale":{"type":"utc","domain":[1650983820000,1670408340000]}},
  "y":{"field":"v","type":"quantitative","scale":{"domain":[925,1938.4],"nice":false,"zero":false}},"text":{"field":"t"}}}
]
},
{
"width":768,"height":53,
"layer":[
{"data":{"name":"hist"},
 "mark":{"type":"bar","size":2.5,"clip":true},
 "encoding":{
  "x":{"field":"d","type":"temporal","scale":{"type":"utc","domain":[1650983820000,1670408340000]},
   "axis":{"values":[1651363200000,1652659200000,1654041600000,1655078400000,1656633600000,1657497600000,1658361600000,1659312000000,1660521600000,1661990400000,1662940800000,1664582400000,1665964800000,1667260800000,1668384000000],"labels":false,"ticks":false,"domain":false,"grid":true,"gridColor":"#eef1f6","title":null}},
  "y":{"field":"v","type":"quantitative","scale":{"domain":[-110,155],"nice":false,"zero":false},
   "axis":{"orient":"right","offset":-28,"values":[100,0,-100],"format":".2f","labelFontSize":5.5,"labelColor":"#50535e","labelPadding":5,"labelAlign":"left","domain":false,"ticks":false,"tickSize":0,"grid":false,"title":null}},
  "y2":{"datum":0},
  "color":{"field":"k","type":"nominal","scale":{"domain":["pu","pd","nd","nu"],"range":["#26a69a","#b2dfdb","#ff5252","#ffcdd2"]},"legend":null}}},
{"data":{"name":"sig"},
 "mark":{"type":"line","color":"#b9aa8e","strokeWidth":1,"interpolate":"monotone","clip":true},
 "encoding":{"x":{"field":"d","type":"temporal","scale":{"type":"utc","domain":[1650983820000,1670408340000]}},
  "y":{"field":"v","type":"quantitative","scale":{"domain":[-110,155],"nice":false,"zero":false}}}},
{"data":{"name":"macd"},
 "mark":{"type":"line","color":"#7d7f86","strokeWidth":1,"interpolate":"monotone","clip":true},
 "encoding":{"x":{"field":"d","type":"temporal","scale":{"type":"utc","domain":[1650983820000,1670408340000]}},
  "y":{"field":"v","type":"quantitative","scale":{"domain":[-110,155],"nice":false,"zero":false}}}},
{"data":{"values":[{"t":"MACD 12 26 close 9 EMA EMA","d":"2022-04-27T06:00:00Z"}]},
 "mark":{"type":"text","color":"#50535e","fontSize":5,"align":"left","baseline":"middle"},
 "encoding":{"x":{"field":"d","type":"temporal","scale":{"type":"utc","domain":[1650983820000,1670408340000]}},
  "y":{"datum":120,"type":"quantitative","scale":{"domain":[-110,155],"nice":false,"zero":false}},"text":{"field":"t"}}},
{"data":{"values":[{"t":"13.99","d":"2022-05-19T10:34:00Z"}]},
 "mark":{"type":"text","color":"#26a69a","fontSize":5,"align":"left","baseline":"middle"},
 "encoding":{"x":{"field":"d","type":"temporal","scale":{"type":"utc","domain":[1650983820000,1670408340000]}},
  "y":{"datum":120,"type":"quantitative","scale":{"domain":[-110,155],"nice":false,"zero":false}},"text":{"field":"t"}}},
{"data":{"values":[{"t":"−46.08","d":"2022-05-24T17:00:00Z"}]},
 "mark":{"type":"text","color":"#787b86","fontSize":5,"align":"left","baseline":"middle"},
 "encoding":{"x":{"field":"d","type":"temporal","scale":{"type":"utc","domain":[1650983820000,1670408340000]}},
  "y":{"datum":120,"type":"quantitative","scale":{"domain":[-110,155],"nice":false,"zero":false}},"text":{"field":"t"}}},
{"data":{"values":[{"t":"−60.07","d":"2022-05-29T23:30:00Z"}]},
 "mark":{"type":"text","color":"#e8a040","fontSize":5,"align":"left","baseline":"middle"},
 "encoding":{"x":{"field":"d","type":"temporal","scale":{"type":"utc","domain":[1650983820000,1670408340000]}},
  "y":{"datum":120,"type":"quantitative","scale":{"domain":[-110,155],"nice":false,"zero":false}},"text":{"field":"t"}}}
]
},
{
"width":768,"height":51,
"layer":[
{"data":{"values":[{"d":"2022-04-20","d2":"2022-11-29T12:43:00Z","lo":30,"hi":70}]},
 "mark":{"type":"rect","color":"#7e57c2","opacity":0.09,"clip":true},
 "encoding":{
  "x":{"field":"d","type":"temporal","scale":{"type":"utc","domain":[1650983820000,1670408340000]},
   "axis":{"values":[1651363200000,1652659200000,1654041600000,1655078400000,1656633600000,1657497600000,1658361600000,1659312000000,1660521600000,1661990400000,1662940800000,1664582400000,1665964800000,1667260800000,1668384000000,1670205600000],
    "labelExpr":"datum.value > 1669000000000 ? '⚙' : (utcdate(datum.value) == 1 ? utcFormat(datum.value, '%b') : utcFormat(datum.value, '%-d'))",
    "labelFontSize":6,"labelColor":"#50535e","labelPadding":3,"labelOverlap":false,"labelFlush":false,"ticks":false,"tickSize":0,"domain":false,"grid":true,"gridColor":"#eef1f6",
    "gridOpacity":{"condition":{"test":"datum.value > 1669000000000","value":0},"value":1},"title":null}},
  "x2":{"field":"d2"},
  "y":{"field":"lo","type":"quantitative","scale":{"domain":[16.25,80],"nice":false,"zero":false},
   "axis":{"orient":"right","offset":-28,"values":[60,40,20],"format":".2f","labelFontSize":5.5,"labelColor":"#50535e","labelPadding":5,"labelAlign":"left","domain":false,"ticks":false,"tickSize":0,"grid":false,"title":null}},
  "y2":{"field":"hi"}}},
{"data":{"values":[{"d":"2022-04-20","d2":"2022-11-29T12:43:00Z","v":70},{"d":"2022-04-20","d2":"2022-11-29T12:43:00Z","v":30}]},
 "mark":{"type":"rule","color":"#9598a1","strokeDash":[3,3],"strokeWidth":0.7,"clip":true},
 "encoding":{"x":{"field":"d","type":"temporal","scale":{"type":"utc","domain":[1650983820000,1670408340000]}},"x2":{"field":"d2"},
  "y":{"field":"v","type":"quantitative","scale":{"domain":[16.25,80],"nice":false,"zero":false}}}},
{"data":{"name":"rsima"},
 "mark":{"type":"line","color":"#f0d36a","opacity":0.6,"strokeWidth":1,"interpolate":"monotone","clip":true},
 "encoding":{"x":{"field":"d","type":"temporal","scale":{"type":"utc","domain":[1650983820000,1670408340000]}},
  "y":{"field":"v","type":"quantitative","scale":{"domain":[16.25,80],"nice":false,"zero":false}}}},
{"data":{"name":"rsi"},
 "mark":{"type":"line","color":"#6f6893","strokeWidth":0.9,"clip":true},
 "encoding":{"x":{"field":"d","type":"temporal","scale":{"type":"utc","domain":[1650983820000,1670408340000]}},
  "y":{"field":"v","type":"quantitative","scale":{"domain":[16.25,80],"nice":false,"zero":false}}}},
{"data":{"values":[{"t":"RSI 14 close SMA 14 2","d":"2022-04-27T06:00:00Z"},{"t":"∅ ∅","d":"2022-05-22T08:53:00Z"}]},
 "mark":{"type":"text","color":"#50535e","fontSize":5,"align":"left","baseline":"middle"},
 "encoding":{"x":{"field":"d","type":"temporal","scale":{"type":"utc","domain":[1650983820000,1670408340000]}},
  "y":{"datum":69.5,"type":"quantitative","scale":{"domain":[16.25,80],"nice":false,"zero":false}},"text":{"field":"t"}}},
{"data":{"values":[{"t":"44.14","d":"2022-05-13T14:09:00Z"}]},
 "mark":{"type":"text","color":"#7e57c2","fontSize":5,"align":"left","baseline":"middle"},
 "encoding":{"x":{"field":"d","type":"temporal","scale":{"type":"utc","domain":[1650983820000,1670408340000]}},
  "y":{"datum":69.5,"type":"quantitative","scale":{"domain":[16.25,80],"nice":false,"zero":false}},"text":{"field":"t"}}},
{"data":{"values":[{"t":"41.27","d":"2022-05-18T13:28:00Z"}]},
 "mark":{"type":"text","color":"#d4b21a","fontSize":5,"align":"left","baseline":"middle"},
 "encoding":{"x":{"field":"d","type":"temporal","scale":{"type":"utc","domain":[1650983820000,1670408340000]}},
  "y":{"datum":69.5,"type":"quantitative","scale":{"domain":[16.25,80],"nice":false,"zero":false}},"text":{"field":"t"}}},
{"data":{"values":[{"t":"TV","d":"2022-04-29T13:00:00Z"}]},
 "mark":{"type":"text","color":"#131722","fontSize":8,"fontWeight":"bold","align":"center","baseline":"middle"},
 "encoding":{"x":{"field":"d","type":"temporal","scale":{"type":"utc","domain":[1650983820000,1670408340000]}},
  "y":{"datum":25.6,"type":"quantitative","scale":{"domain":[16.25,80],"nice":false,"zero":false}},"text":{"field":"t"}}}
]
}
]
}
